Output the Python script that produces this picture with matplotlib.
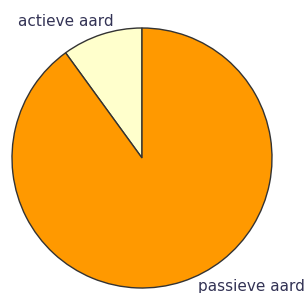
import matplotlib
matplotlib.use("Agg")
import matplotlib.pyplot as plt

labels = ["actieve aard", "passieve aard"]
shares = [10, 90]
colors = ["#FFFFCC", "#FF9900"]

fig = plt.figure(figsize=(3.06, 2.93), dpi=100)
ax = fig.add_axes([0, 0, 1, 1])

ax.pie(shares, colors=colors, startangle=90, counterclock=True,
       center=(142, 135), radius=130, frame=True,
       wedgeprops=dict(edgecolor="#333333", linewidth=1.0))
ax.set_xlim(0, 306)
ax.set_ylim(0, 293)
ax.set_aspect("equal")
ax.axis("off")

txt = dict(fontsize=11, color="#333355", family="DejaVu Sans")
ax.text(18, 271, labels[0], ha="left", va="center", **txt)
ax.text(305, 6, labels[1], ha="right", va="center", **txt)

fig.savefig("out.png", dpi=100)
